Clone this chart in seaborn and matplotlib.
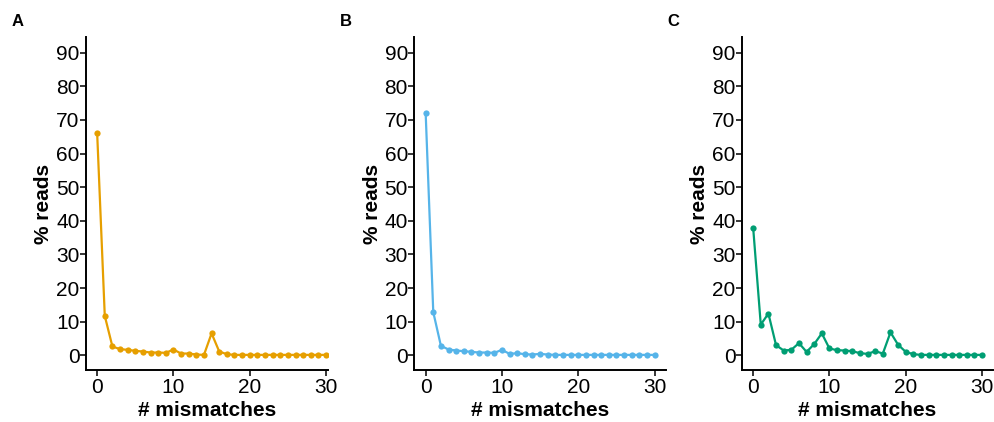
import numpy as np
import pandas as pd
import matplotlib
matplotlib.use("Agg")
import matplotlib.pyplot as plt
import seaborn as sns

# nombre de mismatches (0..30)
mismatches = list(range(31))

# % reads par panneau
reads_a = [66.2, 11.7, 2.6, 1.8, 1.6, 1.3, 1.1, 0.8, 0.8, 0.7, 1.7, 0.5, 0.5, 0.2, 0.1,
           6.5, 1.1, 0.3, 0.1, 0.1, 0.1, 0.1, 0.1, 0.1, 0.1, 0.1, 0.1, 0.1, 0.1, 0.1, 0.1]
reads_b = [72.2, 12.8, 2.8, 1.7, 1.4, 1.2, 1.0, 0.8, 0.8, 0.7, 1.6, 0.4, 0.6, 0.3, 0.2,
           0.4, 0.2, 0.1, 0.1, 0.1, 0.1, 0.1, 0.1, 0.1, 0.1, 0.1, 0.1, 0.1, 0.1, 0.1, 0.1]
reads_c = [38.0, 9.1, 12.4, 3.0, 1.4, 1.6, 3.6, 1.0, 3.3, 6.5, 2.0, 1.5, 1.4, 1.2, 0.6,
           0.4, 1.2, 0.5, 6.8, 3.1, 1.0, 0.3, 0.1, 0.1, 0.1, 0.1, 0.1, 0.1, 0.1, 0.1, 0.1]

panels = ["A", "B", "C"]
colors = ["#E69F00", "#56B4E9", "#009E73"]
y_ticks = [0, 10, 20, 30, 40, 50, 60, 70, 80, 90]
x_ticks = [0, 10, 20, 30]

sns.set_style("ticks")
plt.rcParams["font.family"] = ["Liberation Sans", "DejaVu Sans"]
plt.rcParams["text.color"] = "black"
plt.rcParams["axes.labelcolor"] = "black"
plt.rcParams["xtick.color"] = "black"
plt.rcParams["ytick.color"] = "black"

fig = plt.figure(figsize=(9.95, 4.22), dpi=100)

W, H = 995, 422
PX = 7.63  # pixels par unite en x
lefts = [85.7, 414.2, 741.7]
x_right = [30.2, 31.5, 31.5]  # le panneau A est coupe par B
for i, (lab, reads, col) in enumerate(zip(panels, [reads_a, reads_b, reads_c], colors)):
    left = lefts[i]
    width = (x_right[i] + 1.5) * PX
    ax = fig.add_axes([left / W, 1 - 370 / H, width / W, (370 - 37.3) / H])
    df = pd.DataFrame({"mismatches": mismatches, "reads": reads})
    sns.lineplot(data=df, x="mismatches", y="reads", color=col, marker="o",
                 markersize=4.5, markeredgewidth=0, linewidth=1.6, ax=ax)
    ax.set_xlim(-1.5, x_right[i])
    ax.set_ylim(-4.4, 94.6)
    ax.set_xticks(x_ticks)
    ax.set_yticks(y_ticks)
    ax.tick_params(axis="both", labelsize=15, length=4, width=1.1, color="black",
                   labelcolor="black")
    ax.tick_params(axis="y", pad=0.5)
    ax.tick_params(axis="x", pad=1.5)
    for s in ["top", "right"]:
        ax.spines[s].set_visible(False)
    for s in ["left", "bottom"]:
        ax.spines[s].set_linewidth(1.4)
        ax.spines[s].set_color("black")
    ax.set_xlabel("# mismatches", fontsize=15, fontweight="bold", labelpad=3)
    ax.set_ylabel("% reads", fontsize=15, fontweight="bold", labelpad=2)
    fig.text((left - 74) / W, 1 - 21 / H, lab, fontsize=12, fontweight="bold",
             ha="left", va="center")

fig.savefig("out.png", dpi=100)
